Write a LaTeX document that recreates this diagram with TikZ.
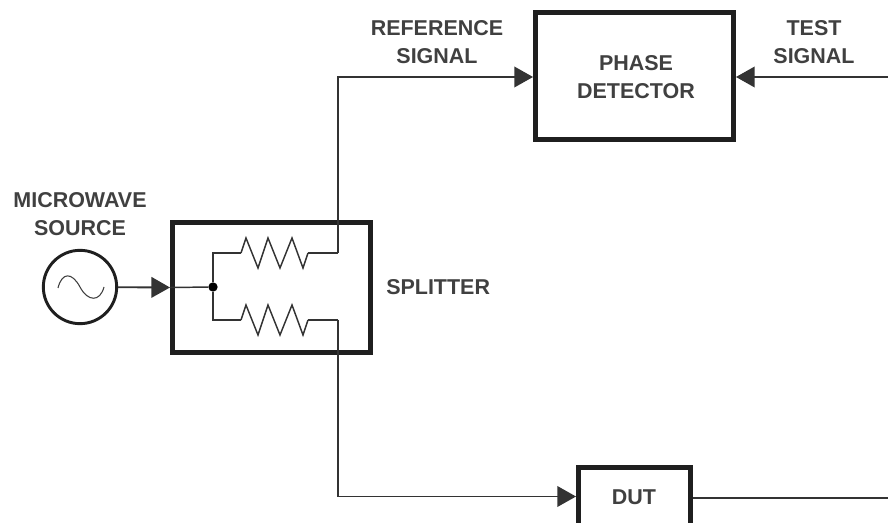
\documentclass[tikz,border=0pt]{standalone}
\usepackage{fontspec}
\setmainfont{Liberation Sans}
\usetikzlibrary{arrows.meta, positioning}
\tikzset{
    heavybox/.style={draw=black!88, line width=3.75pt, fill=white, minimum width=#1},
    heavybox/.default=100pt,
    caption/.style={text=black!75, align=center, inner sep=0pt, font=\fontsize{16.1}{20.5}\selectfont\bfseries},
    wire/.style={draw=black!80, line width=1.1pt},
    resistor/.pic={\draw[wire, line join=miter] (0,0) -- (5,-15) -- (17,15) -- (27,-15) -- (39,15) -- (51,-15) -- (62,15) -- (67,0);},
}
\begin{document}
\begin{tikzpicture}[x=0.75pt, y=-0.75pt, >={Triangle[length=14pt, width=15.5pt]}]
\clip (0,0) rectangle (888,523);
% boxes
\node[heavybox=148.5pt, minimum height=95.25pt] (phase) at (634.5,76) {};
\node[heavybox=148.5pt, minimum height=97.5pt] (split) at (271.5,287.5) {};
\node[heavybox=84pt, minimum height=43pt] (dut) at (634.5,496.5) {};
\node[draw=black!88, circle, line width=2.2pt, minimum size=55pt, inner sep=0pt] (src) at (80,287) {};
% free ends on the right
\coordinate (testin) at (888,77);
\coordinate (dutout) at (888,498);
% inside the splitter
\node[circle, fill=black, minimum size=7pt, inner sep=0pt] (dot) at (213,287) {};
\coordinate (upleft) at (241,253);
\coordinate (upright) at (308,253);
\coordinate (upcorner) at (338,253);
\coordinate (lowleft) at (241,320);
\coordinate (lowright) at (308,320);
\coordinate (lowcorner) at (338,320);
\pic at (upleft) {resistor};
\pic at (lowleft) {resistor};
% source wave
\draw[black!75, line width=0.8pt] (58,288) .. controls (62,272) and (72,272) .. (80,287) .. controls (88,302) and (100,302) .. (104,287);
% arrows
\draw[wire, line width=1.4pt, ->] (src) -- (split.west);
\draw[wire] (split.west) -- (dot);
\draw[wire] (dot) |- (upleft);
\draw[wire] (dot) |- (lowleft);
\draw[wire] (upright) -- (upcorner);
\draw[wire] (lowright) -- (lowcorner);
\draw[wire, ->] (upcorner) |- (phase.west |- testin);
\draw[wire, ->] (lowcorner) |- (dut.west);
\draw[wire, ->] (testin) -- (phase.east |- testin);
\draw[wire] (dut.east |- dutout) -- (dutout);
% labels
\node[caption] (reflabel) at (437,42) {REFERENCE\\SIGNAL};
\node[caption] (testlabel) at (814,42) {TEST\\SIGNAL};
\node[caption] (phaselabel) at (636,77) {PHASE\\DETECTOR};
\node[caption] (srclabel) at (80,214) {MICROWAVE\\SOURCE};
\node[caption, anchor=west] (splitlabel) at (386,287) {SPLITTER};
\node[caption] (dutlabel) at (634,497) {DUT};
\end{tikzpicture}
\end{document}
